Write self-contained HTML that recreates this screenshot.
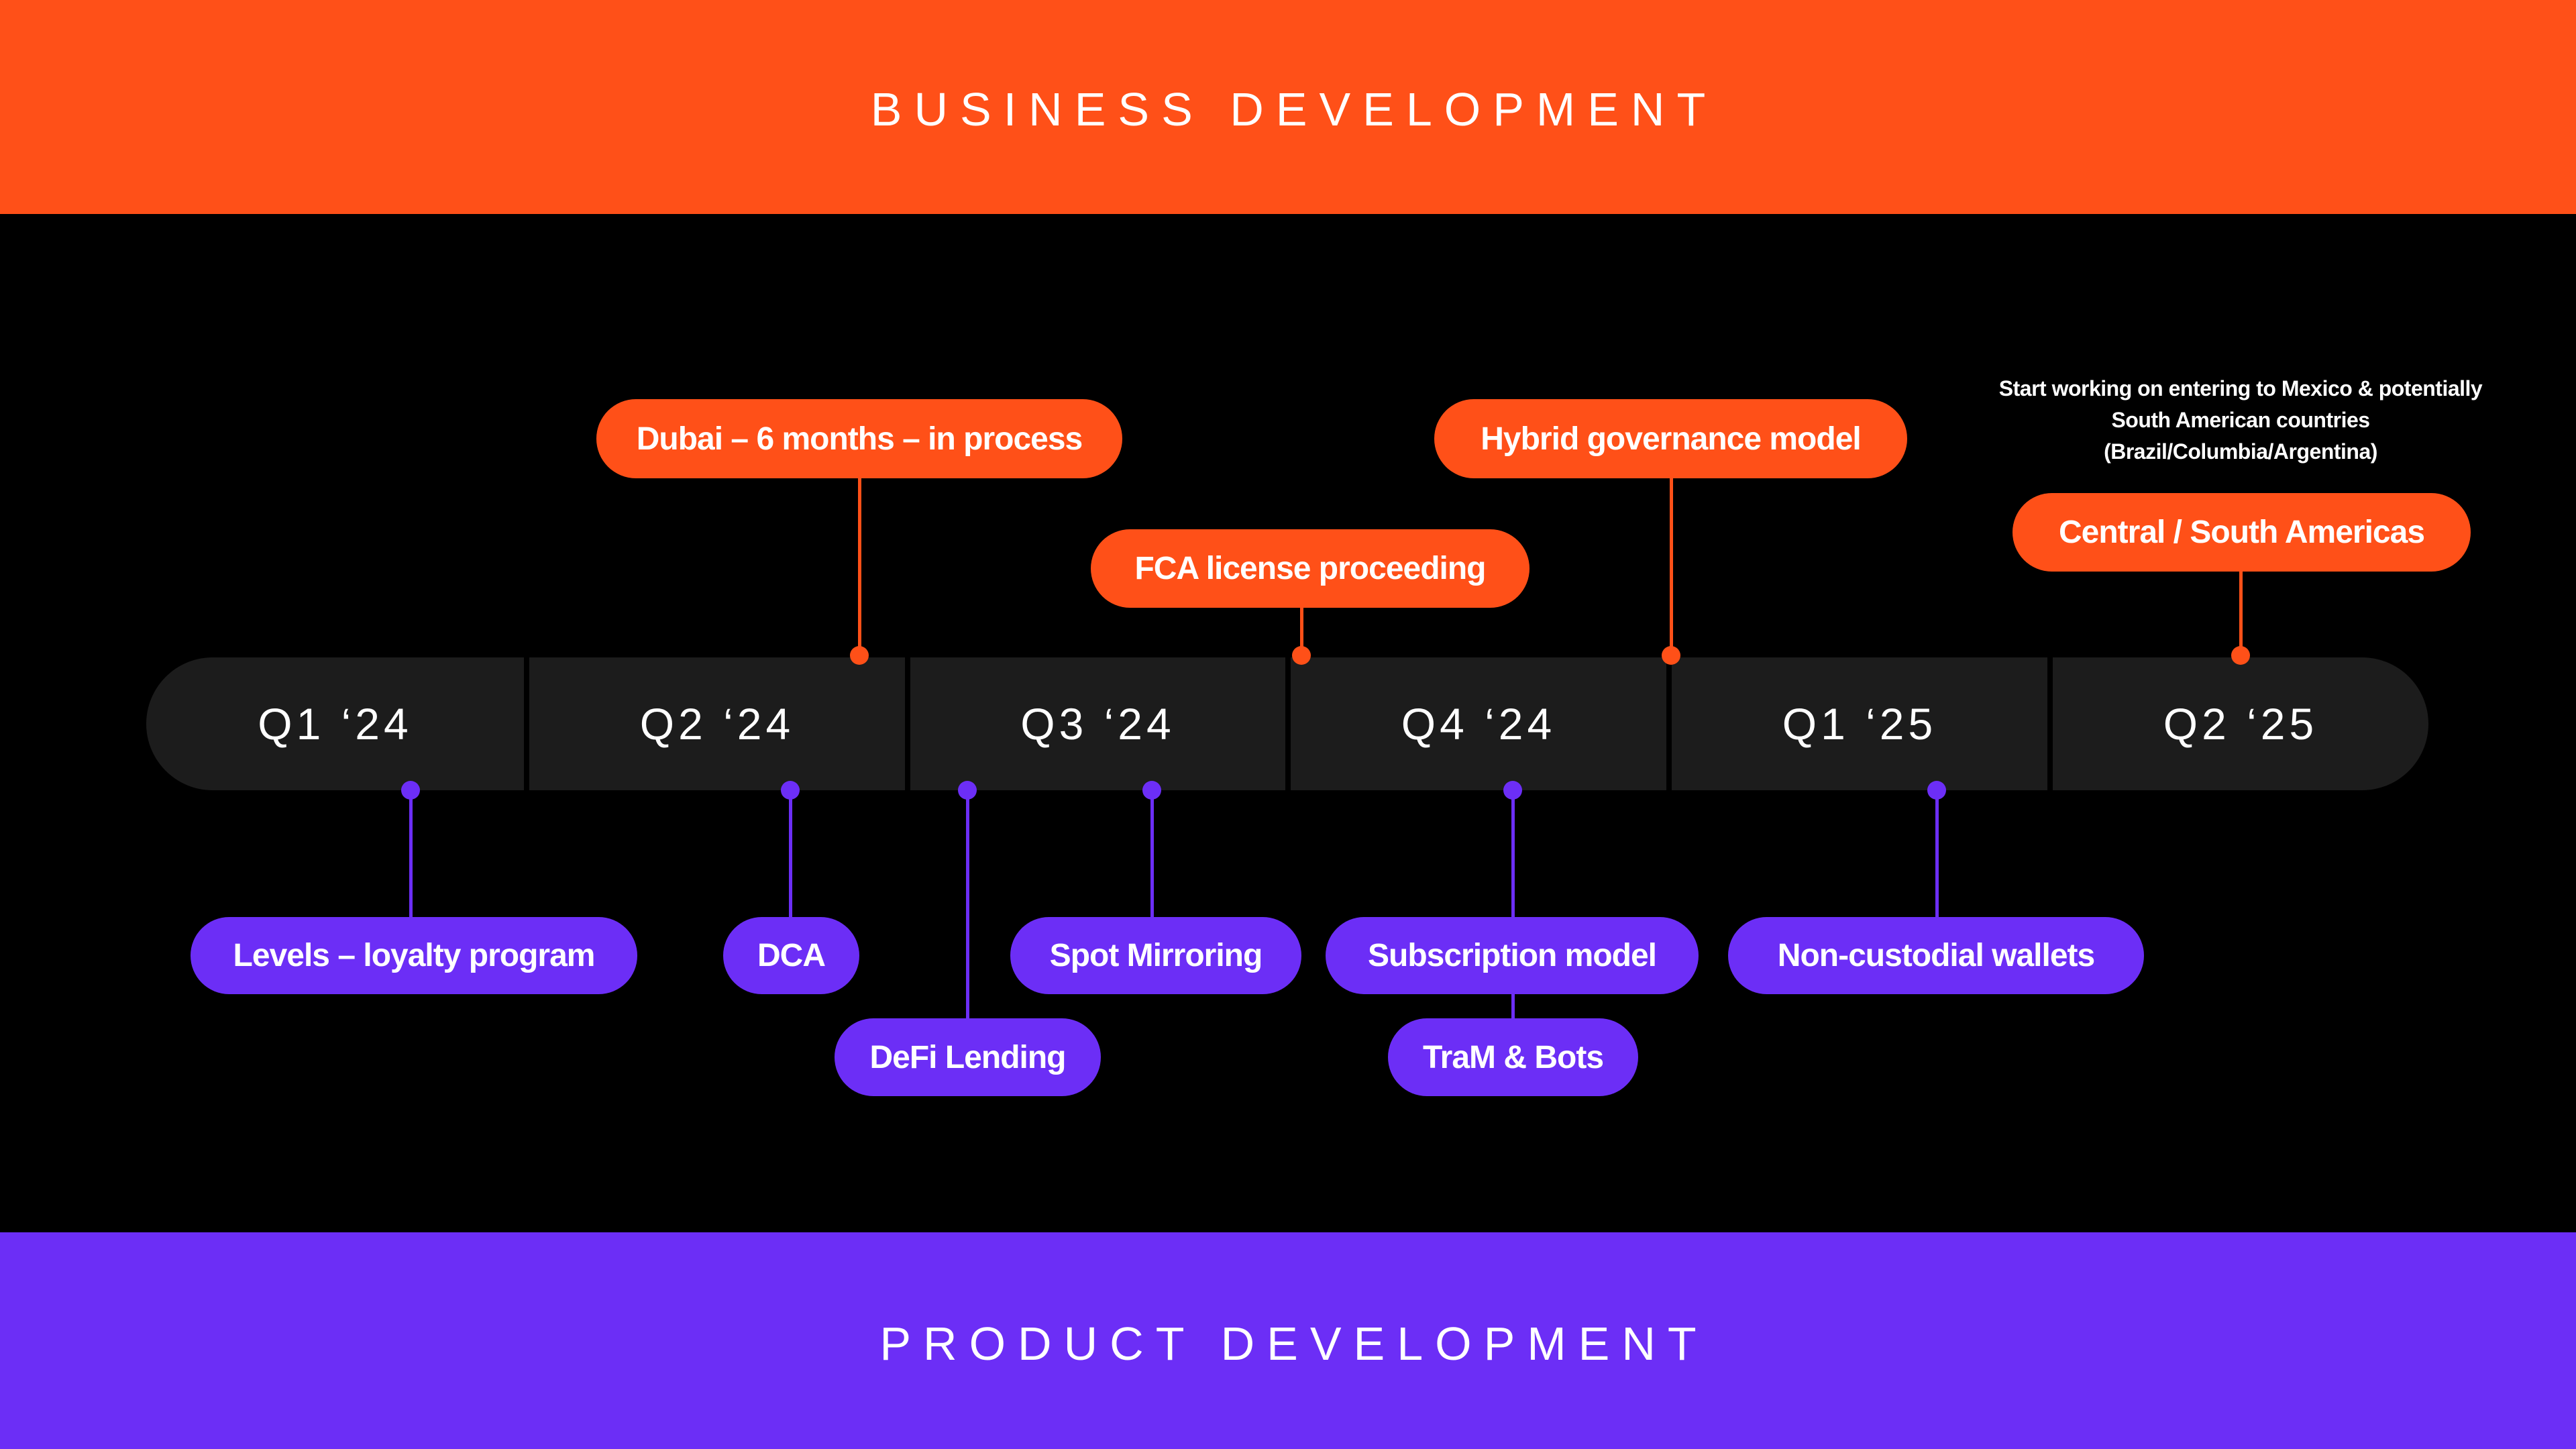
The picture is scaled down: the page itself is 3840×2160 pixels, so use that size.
<!DOCTYPE html>
<html><head><meta charset="utf-8"><style>
*{margin:0;padding:0;box-sizing:border-box}
body{width:3840px;height:2160px;background:#000;position:relative;overflow:hidden;font-family:"Liberation Sans",sans-serif;color:#fff}
.bar{position:absolute;left:0;width:3840px}
.title{position:absolute;left:0;width:3840px;text-align:center;font-size:70px;letter-spacing:18px;font-weight:400;padding-left:18px}
.seg{position:absolute;top:980px;height:198px;background:#1c1c1c;display:flex;align-items:center;justify-content:center;font-size:66px;letter-spacing:6px;font-weight:400}
.pill{position:absolute;border-radius:60px;display:flex;align-items:center;justify-content:center;font-weight:700;font-size:48px;letter-spacing:-1px;white-space:nowrap}
.o{background:#ff5018}.p{background:#6c2ef6}
.ln{position:absolute;width:5px}
.dot{position:absolute;width:28px;height:28px;border-radius:50%}
</style></head><body>
<div class="bar" style="top:0;height:319px;background:#ff5018"></div>
<div class="title" style="top:123px">BUSINESS DEVELOPMENT</div>
<div class="bar" style="top:1837px;height:323px;background:#6c2ef6"></div>
<div class="title" style="top:1963px">PRODUCT DEVELOPMENT</div>

<div class="seg" style="left:218px;width:563px;border-radius:99px 0 0 99px">Q1 ‘24</div>
<div class="seg" style="left:789px;width:560px">Q2 ‘24</div>
<div class="seg" style="left:1357px;width:559px">Q3 ‘24</div>
<div class="seg" style="left:1924px;width:560px">Q4 ‘24</div>
<div class="seg" style="left:2492px;width:560px">Q1 ‘25</div>
<div class="seg" style="left:3060px;width:560px;border-radius:0 99px 99px 0">Q2 ‘25</div>

<div class="ln o" style="left:1279px;top:713px;height:264px"></div><div class="dot o" style="left:1267px;top:963px"></div>
<div class="ln o" style="left:1938px;top:906px;height:71px"></div><div class="dot o" style="left:1926px;top:963px"></div>
<div class="ln o" style="left:2489px;top:713px;height:264px"></div><div class="dot o" style="left:2477px;top:963px"></div>
<div class="ln o" style="left:3338px;top:852px;height:125px"></div><div class="dot o" style="left:3326px;top:963px"></div>

<div class="pill o" style="left:889px;top:595px;width:784px;height:118px">Dubai – 6 months – in process</div>
<div class="pill o" style="left:1626px;top:789px;width:654px;height:117px">FCA license proceeding</div>
<div class="pill o" style="left:2138px;top:595px;width:705px;height:118px">Hybrid governance model</div>
<div class="pill o" style="left:3000px;top:735px;width:683px;height:117px">Central / South Americas</div>

<div style="position:absolute;left:2900px;width:880px;top:556px;text-align:center;font-weight:700;font-size:32px;line-height:47px;letter-spacing:-0.5px">Start working on entering to Mexico &amp; potentially<br>South American countries<br>(Brazil/Columbia/Argentina)</div>

<div class="ln p" style="left:610px;top:1180px;height:190px"></div><div class="dot p" style="left:598px;top:1164px"></div>
<div class="ln p" style="left:1176px;top:1180px;height:190px"></div><div class="dot p" style="left:1164px;top:1164px"></div>
<div class="ln p" style="left:1440px;top:1180px;height:340px"></div><div class="dot p" style="left:1428px;top:1164px"></div>
<div class="ln p" style="left:1715px;top:1180px;height:190px"></div><div class="dot p" style="left:1703px;top:1164px"></div>
<div class="ln p" style="left:2253px;top:1180px;height:340px"></div><div class="dot p" style="left:2241px;top:1164px"></div>
<div class="ln p" style="left:2885px;top:1180px;height:190px"></div><div class="dot p" style="left:2873px;top:1164px"></div>

<div class="pill p" style="left:284px;top:1367px;width:666px;height:115px">Levels – loyalty program</div>
<div class="pill p" style="left:1078px;top:1367px;width:203px;height:115px">DCA</div>
<div class="pill p" style="left:1506px;top:1367px;width:434px;height:115px">Spot Mirroring</div>
<div class="pill p" style="left:1976px;top:1367px;width:556px;height:115px">Subscription model</div>
<div class="pill p" style="left:2576px;top:1367px;width:620px;height:115px">Non-custodial wallets</div>
<div class="pill p" style="left:1244px;top:1518px;width:397px;height:116px">DeFi Lending</div>
<div class="pill p" style="left:2069px;top:1518px;width:373px;height:116px">TraM &amp; Bots</div>
</body></html>
